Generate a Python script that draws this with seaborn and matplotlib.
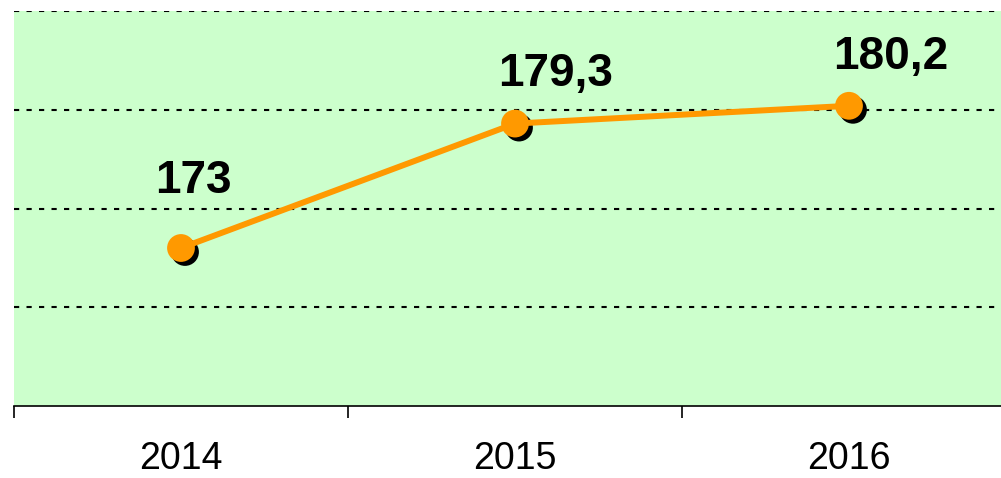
import matplotlib
matplotlib.use('Agg')
import matplotlib.pyplot as plt
import matplotlib.transforms as mtransforms
import numpy as np
import pandas as pd
import seaborn as sns

# Data
years = ['2014', '2015', '2016']
values = [173.0, 179.3, 180.2]
labels = ['173', '179,3', '180,2']
label_offsets = [(9, 48), (29, 36), (30, 35)]  # points

df = pd.DataFrame({'pos': np.arange(len(years)), 'value': values})

sns.set_style('white')
plt.rcParams['font.family'] = ['Liberation Sans', 'DejaVu Sans']

fig = plt.figure(figsize=(10.01, 4.78), dpi=100)
ax = fig.add_axes([14 / 1001, 72 / 478, 1002 / 1001, 395 / 478])
ax.set_facecolor('#CCFFCC')

# shadow markers
shadow = mtransforms.offset_copy(ax.transData, fig=fig, x=4, y=-4, units='dots')
sns.scatterplot(data=df, x='pos', y='value', ax=ax, color='black', s=400,
                edgecolor='none', transform=shadow, zorder=3, legend=False)
sns.lineplot(data=df, x='pos', y='value', ax=ax, color='#FF9900', linewidth=4.3,
             zorder=4, legend=False)
sns.scatterplot(data=df, x='pos', y='value', ax=ax, color='#FF9900', s=400,
                edgecolor='none', zorder=5, legend=False)

for x, y, t, off in zip(df['pos'], values, labels, label_offsets):
    ax.annotate(t, (x, y), xytext=off, textcoords='offset points', ha='center',
                va='center', fontsize=33, fontweight='bold', color='black', zorder=6)

ax.set_xlim(-0.5, 2.5)
ax.set_ylim(165, 185)
ax.set_yticks([170, 175, 180, 185])
ax.yaxis.grid(True, color='black', linestyle=(0, (2.5, 3.5)), linewidth=1.5)
ax.set_axisbelow(True)
ax.tick_params(axis='y', left=False, labelleft=False)

ax.set_xticks([-0.5, 0.5, 1.5, 2.5])
ax.set_xticklabels([])
ax.set_xticks(df['pos'], minor=True)
ax.set_xticklabels(years, minor=True)
ax.tick_params(axis='x', which='major', bottom=True, direction='out', length=8.6,
               width=1.2, color='black')
ax.tick_params(axis='x', which='minor', bottom=True, length=0, pad=25,
               labelsize=27, labelcolor='black')

for side in ['left', 'right', 'top']:
    ax.spines[side].set_visible(False)
ax.spines['bottom'].set_color('black')
ax.spines['bottom'].set_linewidth(1.2)

ax.set_xlabel('')
ax.set_ylabel('')

fig.savefig('out.png', dpi=100)
